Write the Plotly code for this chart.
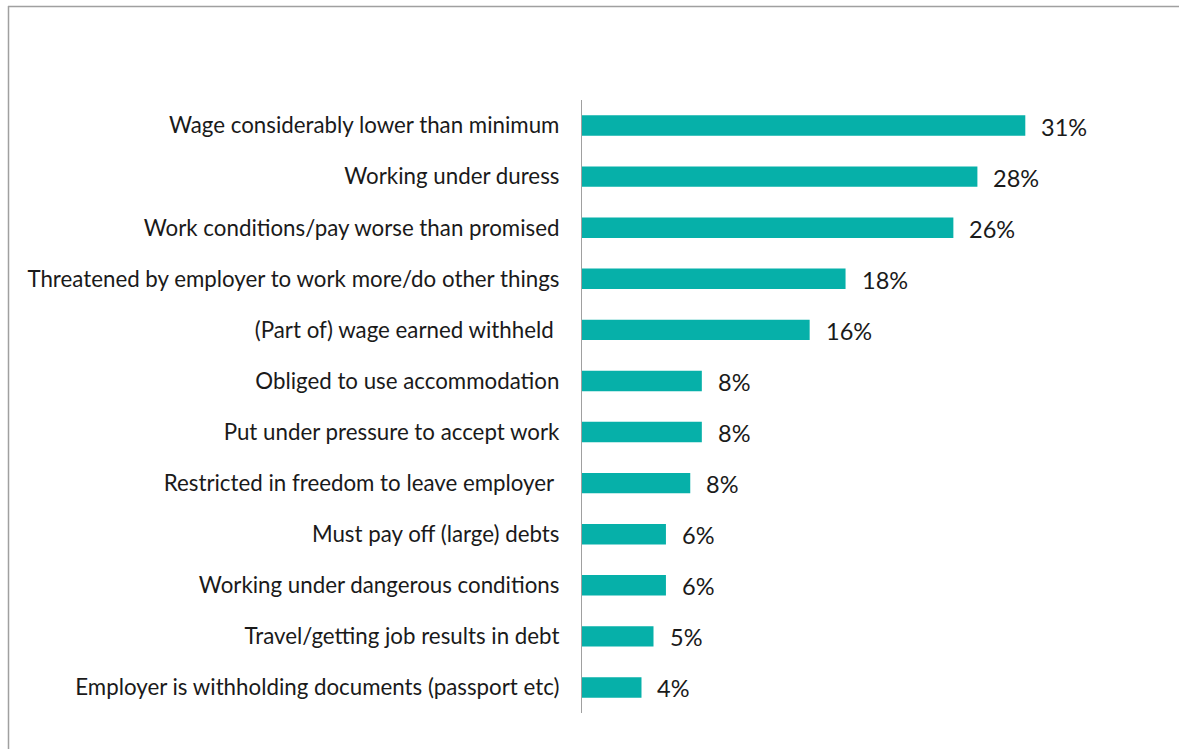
import plotly.graph_objects as go

categories = [
    "Wage considerably lower than minimum",
    "Working under duress",
    "Work conditions/pay worse than promised",
    "Threatened by employer to work more/do other things",
    "(Part of) wage earned withheld ",
    "Obliged to use accommodation",
    "Put under pressure to accept work",
    "Restricted in freedom to leave employer ",
    "Must pay off (large) debts",
    "Working under dangerous conditions",
    "Travel/getting job results in debt",
    "Employer is withholding documents (passport etc)",
]
values = [31.0, 27.65, 25.97, 18.43, 15.92, 8.38, 8.38, 7.57, 5.87, 5.87, 5.0, 4.16]
labels = [f"{round(v)}%" for v in values]

W, H = 1179, 749
ML, MR, MT, MB = 582, 59, 100, 36
pw = W - ML - MR
ph = H - MT - MB
xmax = pw / 14.3

fig = go.Figure()
fig.add_trace(go.Bar(
    x=values, y=categories, orientation="h",
    marker=dict(color="#06b0a9", line=dict(width=0)),
    width=0.4, hoverinfo="skip",
))

for v, c, t in zip(values, categories, labels):
    fig.add_annotation(x=v, y=c, text=t, showarrow=False, xanchor="left",
                       xshift=14, yshift=-1,
                       font=dict(family="Lato", size=23.5, color="#1a1a1a"))

def px_x(p):
    return (p - ML) / pw

def px_y(p):
    return (H - MB - p) / ph

border = "#a0a0a0"
fig.add_shape(type="line", xref="paper", yref="paper",
              x0=px_x(8), x1=px_x(1185), y0=px_y(6.5), y1=px_y(6.5),
              line=dict(color=border, width=1.5))
fig.add_shape(type="line", xref="paper", yref="paper",
              x0=px_x(8.5), x1=px_x(8.5), y0=px_y(6), y1=px_y(760),
              line=dict(color=border, width=1.5))

fig.update_layout(
    width=W, height=H,
    margin=dict(l=ML, r=MR, t=MT, b=MB, pad=0),
    plot_bgcolor="white", paper_bgcolor="white",
    showlegend=False,
    xaxis=dict(range=[0, xmax], showgrid=False, zeroline=False,
               showticklabels=False, showline=False, fixedrange=True),
    yaxis=dict(autorange=False, range=[11.5, -0.5], showgrid=False,
               showline=True, linecolor="#a0a0a0", linewidth=1.2,
               ticks="", ticklabelstandoff=17,
               tickfont=dict(family="Lato", size=22.3, color="#1a1a1a"),
               automargin=False, fixedrange=True),
)

fig.write_html("out.html")
